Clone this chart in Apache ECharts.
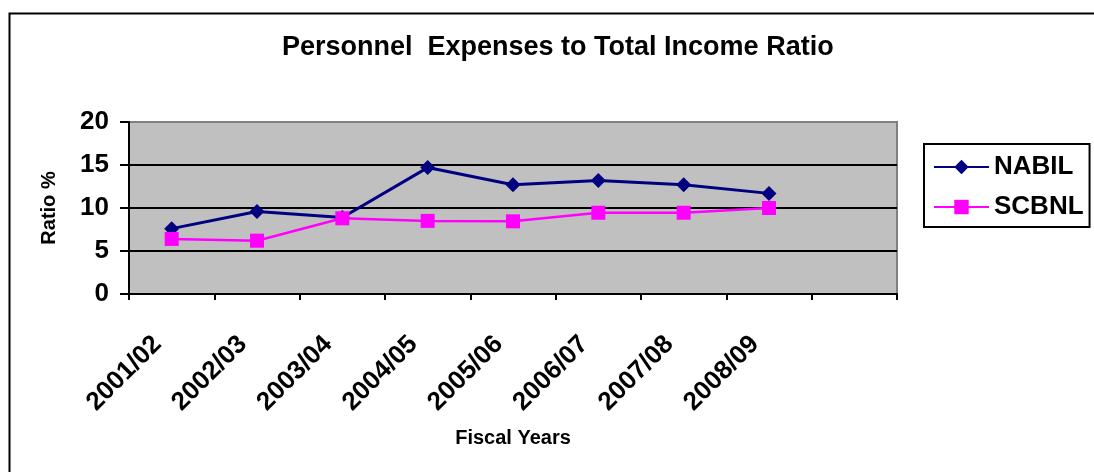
<!DOCTYPE html>
<html>
<head>
<meta charset="utf-8">
<script src="https://cdn.jsdelivr.net/npm/echarts@6/dist/echarts.min.js"></script>
<style>
html,body{margin:0;padding:0;background:#fff;}
#chart{width:1094px;height:472px;}
</style>
</head>
<body>
<div id="chart"></div>
<script>
var categories = ['2001/02','2002/03','2003/04','2004/05','2005/06','2006/07','2007/08','2008/09',''];
var nabil = [7.6, 9.6, 8.9, 14.7, 12.7, 13.2, 12.7, 11.7];
var scbnl = [6.4, 6.2, 8.8, 8.5, 8.45, 9.45, 9.45, 10.0];
var yTicks = {min: 0, max: 20, interval: 5};

var FONT = '"Liberation Sans", Arial, sans-serif';
var chart = echarts.init(document.getElementById('chart'), null, {renderer: 'canvas'});
chart.setOption({
  animation: false,
  backgroundColor: '#ffffff',
  graphic: [{
    type: 'rect', left: 7, top: 11, z: -10,
    shape: {width: 1100, height: 500},
    style: {fill: 'none', stroke: '#000', lineWidth: 2}
  }],
  title: {
    text: 'Personnel  Expenses to Total Income Ratio',
    left: 282, top: 34, padding: 0,
    textStyle: {fontFamily: FONT, fontSize: 27, fontWeight: 'bold', color: '#000'}
  },
  legend: {
    orient: 'vertical', left: 924, top: 144,
    borderColor: '#000', borderWidth: 2,
    padding: [10, 6, 7, 9],
    itemWidth: 55, itemHeight: 18, itemGap: 14,
    lineStyle: {width: 2},
    textStyle: {fontFamily: FONT, fontSize: 26, fontWeight: 'bold', color: '#000'},
    data: ['NABIL', 'SCBNL']
  },
  grid: {
    left: 129, right: 197, top: 122, bottom: 178,
    show: true, backgroundColor: '#c0c0c0', borderColor: '#808080', borderWidth: 2
  },
  xAxis: {
    type: 'category', data: categories, boundaryGap: true,
    name: 'Fiscal Years', nameLocation: 'middle', nameGap: 134,
    nameTextStyle: {fontFamily: FONT, fontSize: 20, fontWeight: 'bold', color: '#000'},
    axisLine: {lineStyle: {color: '#000', width: 2}},
    axisTick: {show: true, interval: 0, length: 6, lineStyle: {color: '#000', width: 2}},
    axisLabel: {interval: 0, rotate: 45, margin: 32, padding: [0, 20, 0, 0], fontFamily: FONT, fontSize: 26, fontWeight: 'bold', color: '#000'},
    splitLine: {show: false}
  },
  yAxis: {
    type: 'value', min: yTicks.min, max: yTicks.max, interval: yTicks.interval,
    name: 'Ratio %', nameLocation: 'middle', nameGap: 70, nameRotate: 90,
    nameTextStyle: {fontFamily: FONT, fontSize: 20, fontWeight: 'bold', color: '#000'},
    axisLine: {show: true, lineStyle: {color: '#000', width: 2}},
    axisTick: {show: true, length: 9, lineStyle: {color: '#000', width: 2}},
    axisLabel: {margin: 20, fontFamily: FONT, fontSize: 26, fontWeight: 'bold', color: '#000'},
    splitLine: {show: true, showMaxLine: false, lineStyle: {color: '#000', width: 2}}
  },
  series: [{
    name: 'NABIL', type: 'line', data: nabil,
    symbol: 'diamond', symbolSize: 15,
    lineStyle: {color: '#000080', width: 3},
    itemStyle: {color: '#000080'}
  }, {
    name: 'SCBNL', type: 'line', data: scbnl,
    symbol: 'rect', symbolSize: 14,
    lineStyle: {color: '#ff00ff', width: 2.5},
    itemStyle: {color: '#ff00ff'}
  }]
});
</script>
</body>
</html>
